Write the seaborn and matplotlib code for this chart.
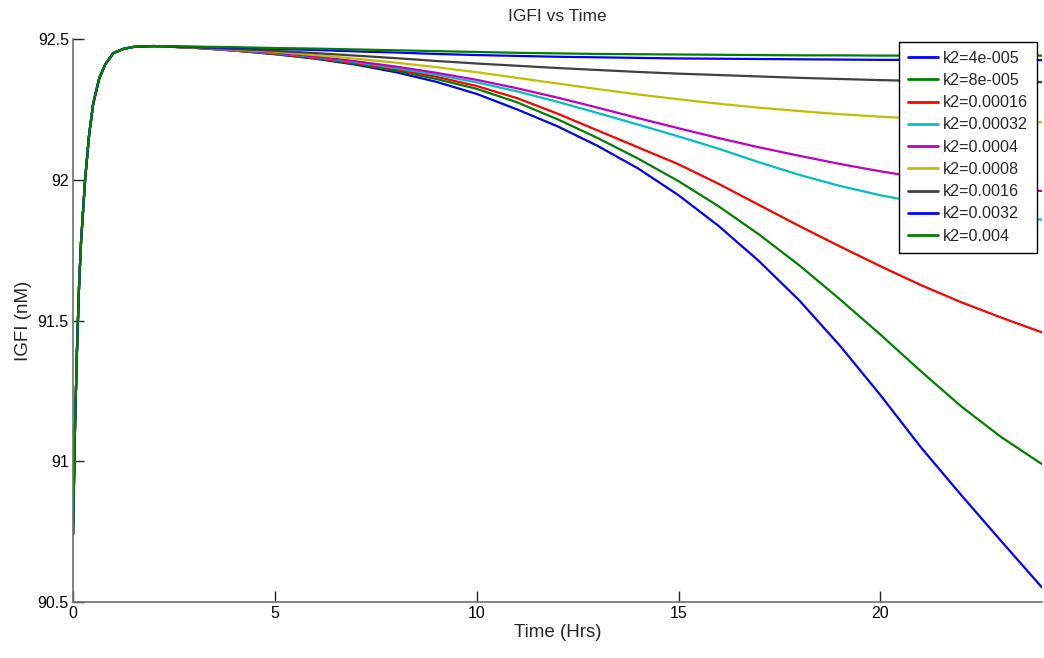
import numpy as np
import pandas as pd
import seaborn as sns
import matplotlib.pyplot as plt

# tempo (h): subida inicial comum + decaimento
t_rise = [0, 0.05, 0.1, 0.15, 0.2, 0.3, 0.4, 0.5, 0.65, 0.8, 1.0, 1.25, 1.5, 2.0]
igfi_rise = [90.74, 91.12, 91.40, 91.62, 91.78, 92.00, 92.16, 92.27, 92.36, 92.41,
             92.45, 92.465, 92.472, 92.475]

t_decay = [3, 4, 5, 6, 7, 8, 9, 10, 11, 12, 13, 14, 15, 16, 17, 18, 19, 20, 21, 22, 23, 24]

k2_labels = ['k2=4e-005', 'k2=8e-005', 'k2=0.00016', 'k2=0.00032', 'k2=0.0004',
             'k2=0.0008', 'k2=0.0016', 'k2=0.0032', 'k2=0.004']

igfi_4e5 = [92.469, 92.459, 92.446, 92.43, 92.409, 92.382, 92.348, 92.305, 92.25, 92.19, 92.12,
            92.04, 91.945, 91.835, 91.71, 91.57, 91.41, 91.235, 91.05, 90.88, 90.715, 90.552]
igfi_8e5 = [92.469, 92.459, 92.447, 92.432, 92.412, 92.388, 92.358, 92.323, 92.275, 92.215, 92.148,
            92.075, 91.995, 91.905, 91.805, 91.695, 91.575, 91.45, 91.32, 91.195, 91.085, 90.99]
igfi_16e5 = [92.469, 92.459, 92.448, 92.433, 92.415, 92.393, 92.366, 92.333, 92.29, 92.235, 92.175,
             92.115, 92.055, 91.985, 91.91, 91.835, 91.763, 91.693, 91.626, 91.565, 91.51, 91.458]
igfi_32e5 = [92.469, 92.46, 92.45, 92.436, 92.418, 92.397, 92.373, 92.346, 92.314, 92.277, 92.237,
             92.196, 92.154, 92.11, 92.062, 92.017, 91.978, 91.945, 91.918, 91.895, 91.875, 91.858]
igfi_4e4 = [92.469, 92.461, 92.452, 92.438, 92.421, 92.402, 92.38, 92.355, 92.325, 92.292, 92.256,
            92.219, 92.183, 92.148, 92.115, 92.085, 92.056, 92.03, 92.007, 91.988, 91.973, 91.96]
igfi_8e4 = [92.47, 92.463, 92.455, 92.443, 92.43, 92.416, 92.4, 92.382, 92.362, 92.342, 92.322,
            92.303, 92.286, 92.27, 92.256, 92.244, 92.233, 92.224, 92.217, 92.211, 92.207, 92.204]
igfi_16e4 = [92.47, 92.465, 92.458, 92.45, 92.441, 92.432, 92.422, 92.413, 92.405, 92.397, 92.39,
             92.383, 92.377, 92.372, 92.367, 92.362, 92.358, 92.354, 92.351, 92.349, 92.348, 92.347]
igfi_32e4 = [92.472, 92.469, 92.465, 92.461, 92.456, 92.452, 92.447, 92.443, 92.44, 92.437, 92.435,
             92.433, 92.431, 92.43, 92.429, 92.428, 92.427, 92.426, 92.426, 92.425, 92.425, 92.425]
igfi_4e3 = [92.473, 92.471, 92.468, 92.466, 92.463, 92.46, 92.457, 92.454, 92.451, 92.449, 92.447,
            92.446, 92.445, 92.444, 92.443, 92.442, 92.442, 92.441, 92.441, 92.441, 92.441, 92.441]

series = [igfi_4e5, igfi_8e5, igfi_16e5, igfi_32e5, igfi_4e4,
          igfi_8e4, igfi_16e4, igfi_32e4, igfi_4e3]

cores = ['#0000ff', '#008000', '#ff0000', '#00bfbf', '#bf00bf',
         '#bfbf00', '#404040', '#0000ff', '#008000']

# montar tabela longa
partes = []
for nome, vals in zip(k2_labels, series):
    partes.append(pd.DataFrame({'Tempo': t_rise + t_decay,
                                'IGFI': igfi_rise + vals,
                                'k2': nome}))
tabela = pd.concat(partes, ignore_index=True)

sns.set_theme(style='white')
plt.rcParams['font.family'] = ['Liberation Sans', 'DejaVu Sans']

fig = plt.figure(figsize=(10.44, 6.58), dpi=100)
ax = fig.add_axes([0.0699, 0.0851, 0.9281, 0.8556])

sns.lineplot(data=tabela, x='Tempo', y='IGFI', hue='k2', hue_order=k2_labels,
             palette=dict(zip(k2_labels, cores)), linewidth=1.6, sort=False,
             estimator=None, ax=ax)

ax.set_xlim(0, 24)
ax.set_ylim(90.5, 92.5)
ax.set_xticks([0, 5, 10, 15, 20])
ax.set_yticks([90.5, 91, 91.5, 92, 92.5])
ax.set_yticklabels(['90.5', '91', '91.5', '92', '92.5'])
ax.tick_params(bottom=True, left=True, direction='in', length=8, width=1,
               color='#202020', labelcolor='black', labelsize=11.5, pad=3)
for lado in ['top', 'right']:
    ax.spines[lado].set_visible(False)
for lado in ['left', 'bottom']:
    ax.spines[lado].set_color('#707070')
    ax.spines[lado].set_linewidth(1.2)

ax.set_xlabel('Time (Hrs)', fontsize=13.5, labelpad=2)
ax.set_ylabel('IGFI (nM)', fontsize=13.5, labelpad=4)
ax.set_title('IGFI vs Time', fontsize=12.5, pad=13)

leg = ax.legend(loc='upper right', bbox_to_anchor=(0.995, 0.995), borderaxespad=0,
                fontsize=11.6, frameon=True, fancybox=False, framealpha=1,
                edgecolor='black', labelspacing=0.45, handlelength=1.9,
                handletextpad=0.3, borderpad=0.55)
leg.get_frame().set_linewidth(1.0)
for linha in leg.get_lines():
    linha.set_linewidth(2)

fig.savefig('out.png', dpi=100)
